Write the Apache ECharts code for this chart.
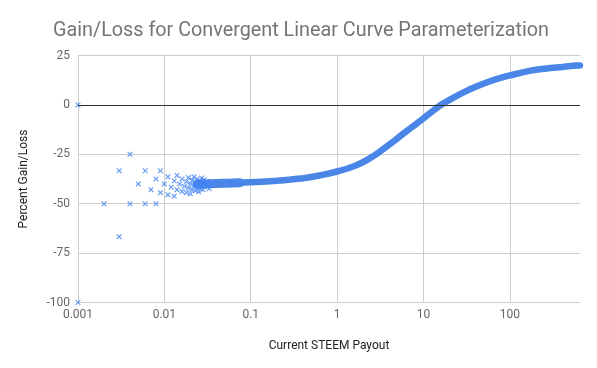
<!DOCTYPE html>
<html><head><meta charset="utf-8">
<script src="https://cdn.jsdelivr.net/npm/echarts@6/dist/echarts.min.js"></script>
<style>html,body{margin:0;padding:0;background:#fff}#c{width:597px;height:368px}</style>
</head><body><div id="c"></div>
<script>
// Discrete (quantized) payouts at the low end
const scatterX = [0.001,0.001,0.002,0.003,0.003,0.004,0.004,0.005,0.006,0.006,0.007,0.008,0.008,0.009,0.009,0.010,0.011,0.011,0.012,0.013,0.013,0.014,0.014,0.015,0.016,0.016,0.017,0.018,0.018,0.019,0.019,0.020,0.020,0.021,0.021,0.022,0.022,0.023,0.023,0.024,0.024,0.025,0.025,0.026,0.026,0.027,0.027,0.028,0.028,0.029,0.029,0.030,0.031,0.032,0.033];
const scatterY = [0,-100,-50,-33.3,-66.7,-25,-50,-40,-33.3,-50,-42.9,-37.5,-50,-33.3,-44.4,-40,-36.4,-45.5,-41.7,-38.5,-46.2,-35.7,-42.9,-40,-37.5,-43.8,-41.2,-38.9,-44.4,-36.8,-42.1,-40,-45,-38.1,-42.9,-36.4,-40.9,-39.1,-43.5,-37.5,-41.7,-40,-44,-38.5,-42.3,-37,-40.7,-39.3,-42.9,-37.9,-41.4,-40,-38.7,-40.6,-42.4];
// Dense band (read along its centre)
const bandX = [0.026,0.035,0.05,0.07,0.1,0.15,0.2,0.29,0.376,0.448,0.7,1,1.32,1.67,2.1,2.65,3.18,4.2,5.2,6.5,8.2,10,12,15.7,20.5,29.5,41,60,73,100,169,264,412,593,650];
const bandY = [-40,-39.8,-39.6,-39.4,-39.1,-38.8,-38.4,-37.8,-37.3,-36.9,-35.3,-33.7,-32.2,-30.6,-28.5,-25.8,-23.4,-19.5,-16.3,-13,-9.7,-6.8,-4.1,-0.2,2.8,6.5,9.3,12.1,13.3,14.9,17.2,18.4,19.2,19.9,20];
// Wider, fuzzier start of the band
const headX = [0.024,0.03,0.04,0.055,0.075];
const headY = [-40.2,-40,-39.8,-39.6,-39.4];
const xTickLabels = ['0.001','0.01','0.1','1','10','100'];
const yTicks = [-100,-75,-50,-25,0,25];

const XMARK = 'path://M0,1.5L1.5,0L5,3.5L8.5,0L10,1.5L6.5,5L10,8.5L8.5,10L5,6.5L1.5,10L0,8.5L3.5,5Z';
const chart = echarts.init(document.getElementById('c'));
chart.setOption({
  backgroundColor:'#fff',
  animation:false,
  title:{text:'Gain/Loss for Convergent Linear Curve Parameterization',left:48,top:16,
    textStyle:{fontFamily:'Roboto',fontSize:19.8,fontWeight:'normal',color:'#757575'}},
  grid:{left:78,right:17,top:55.5,bottom:65.5,containLabel:false},
  xAxis:{type:'log',logBase:10,min:0.001,max:650,
    name:'Current STEEM Payout',nameLocation:'middle',nameGap:37,
    nameTextStyle:{fontFamily:'Roboto',fontSize:12,color:'#222'},
    axisLine:{show:false},axisTick:{show:false},
    splitLine:{show:true,showMaxLine:false,lineStyle:{color:'#cccccc',width:1}},
    axisLabel:{fontFamily:'Roboto',fontSize:12,color:'#666',margin:6,showMaxLabel:false,
      formatter:function(v){const e=Math.round(Math.log10(v));if(Math.abs(Math.log10(v)-e)>1e-6)return '';const i=e+3;return xTickLabels[i]||'';}}
  },
  yAxis:{type:'value',min:yTicks[0],max:yTicks[yTicks.length-1],interval:25,
    name:'Percent Gain/Loss',nameLocation:'middle',nameGap:48,
    nameTextStyle:{fontFamily:'Roboto',fontSize:12,color:'#222'},
    axisLine:{show:false},axisTick:{show:false},
    splitLine:{show:true,lineStyle:{color:'#cccccc',width:1}},
    axisLabel:{fontFamily:'Roboto',fontSize:12,color:'#666',margin:8}
  },
  series:[
    {type:'line',data:[],z:1,silent:true,
      markLine:{silent:true,symbol:'none',label:{show:false},
        lineStyle:{color:'#333',width:1.2,type:'solid'},data:[{yAxis:0}]}},
    {type:'line',z:2,smooth:0.4,showSymbol:false,silent:true,
      lineStyle:{color:'#4a86e8',width:6.5,cap:'round'},
      data:bandX.map((x,i)=>[x,bandY[i]])},
    {type:'line',z:2,smooth:0.3,showSymbol:false,silent:true,
      lineStyle:{color:'#4a86e8',width:9,cap:'round'},
      data:headX.map((x,i)=>[x,headY[i]])},
    {type:'scatter',z:3,symbol:XMARK,symbolSize:5.5,
      itemStyle:{color:'#4285f4'},
      data:scatterX.map((x,i)=>[x,scatterY[i]])}
  ]
});
</script></body></html>
